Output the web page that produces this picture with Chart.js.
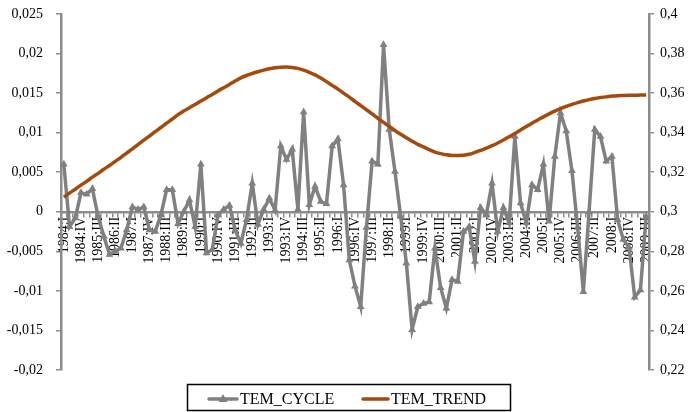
<!DOCTYPE html>
<html>
<head>
<meta charset="utf-8">
<script src="https://cdn.jsdelivr.net/npm/chart.js@4/dist/chart.umd.min.js"></script>
<style>
  html, body { margin: 0; padding: 0; background: #ffffff; }
  #wrap { position: relative; width: 688px; height: 412px; }
  canvas { display: block; }
</style>
</head>
<body>
<div id="wrap"><canvas id="c" width="688" height="412"></canvas></div>
<script>
// Quarterly categories 1984:I .. 2009:III
const firstYear = 1984;
const lastYear = 2009;
const lastQuarter = 3;
const quarterNames = ['I', 'II', 'III', 'IV'];
const categories = [];
for (let y = firstYear; y <= lastYear; y++) {
  for (let q = 0; q < 4; q++) {
    if (y === lastYear && q >= lastQuarter) break;
    categories.push(y + ':' + quarterNames[q]);
  }
}

// Cyclical component (left axis)
const temCycle = [
  0.0060, -0.0019, -0.0008, 0.0024, 0.0022, 0.0029, -0.0006, -0.0031, -0.0054, -0.0050,
  -0.0046, -0.0023, 0.0006, 0.0003, 0.0006, -0.0023, -0.0025, -0.0004, 0.0028, 0.0028,
  -0.0015, 0.0000, 0.0015, -0.0019, 0.0060, -0.0052, -0.0048, -0.0004, 0.0003, 0.0008,
  -0.0023, -0.0040, -0.0010, 0.0036, -0.0016, 0.0003, 0.0017, 0.0002, 0.0083, 0.0066,
  0.0079, 0.0003, 0.0126, 0.0009, 0.0032, 0.0013, 0.0010, 0.0083, 0.0092, 0.0034,
  -0.0061, -0.0094, -0.0120, -0.0020, 0.0064, 0.0060, 0.0211, 0.0104, 0.0051, -0.0006,
  -0.0065, -0.0149, -0.0120, -0.0116, -0.0114, -0.0046, -0.0096, -0.0122, -0.0086, -0.0088,
  -0.0025, -0.0019, -0.0063, 0.0005, -0.0004, 0.0036, -0.0025, 0.0005, -0.0014, 0.0095,
  0.0011, -0.0014, 0.0034, 0.0028, 0.0060, -0.0012, 0.0070, 0.0125, 0.0102, 0.0052,
  -0.0020, -0.0101, 0.0000, 0.0104, 0.0095, 0.0064, 0.0070, -0.0010, -0.0035, -0.0045,
  -0.0108, -0.0099, -0.0006
];

// Trend component (right axis)
const temTrend = [
  0.3074, 0.3095, 0.3114, 0.3135, 0.3154, 0.3175, 0.3194, 0.3215, 0.3234, 0.3255,
  0.3275, 0.3297, 0.3318, 0.3340, 0.3362, 0.3383, 0.3405, 0.3426, 0.3448, 0.3469,
  0.3491, 0.3509, 0.3526, 0.3543, 0.3560, 0.3577, 0.3593, 0.3611, 0.3627, 0.3644,
  0.3661, 0.3677, 0.3689, 0.3699, 0.3708, 0.3716, 0.3723, 0.3728, 0.3731, 0.3732,
  0.3730, 0.3725, 0.3716, 0.3705, 0.3692, 0.3676, 0.3658, 0.3639, 0.3620, 0.3600,
  0.3580, 0.3558, 0.3537, 0.3516, 0.3495, 0.3473, 0.3452, 0.3431, 0.3411, 0.3392,
  0.3374, 0.3357, 0.3341, 0.3328, 0.3314, 0.3302, 0.3294, 0.3288, 0.3285, 0.3285,
  0.3286, 0.3291, 0.3300, 0.3310, 0.3322, 0.3334, 0.3348, 0.3363, 0.3379, 0.3396,
  0.3413, 0.3431, 0.3448, 0.3464, 0.3480, 0.3495, 0.3509, 0.3522, 0.3533, 0.3543,
  0.3552, 0.3560, 0.3567, 0.3573, 0.3578, 0.3581, 0.3585, 0.3587, 0.3588, 0.3589,
  0.3589, 0.3590, 0.3590
];

// Axis ranges and tick steps
const leftAxis = { min: -0.02, max: 0.025, step: 0.005 };
const rightAxis = { min: 0.22, max: 0.4, step: 0.02 };
const labelEvery = 3;

const seriesNames = ['TEM_CYCLE', 'TEM_TREND'];
const GREY = '#808080';
const BROWN = '#a34a0c';
const AXIS = '#8c8c8c';
const FONT = '"Liberation Serif", "Times New Roman", serif';

function decimalComma(v) {
  return String(+v.toFixed(4)).replace('.', ',');
}

// Fixed axis width; keep only half a label of head/foot room
function fixedWidth(w) {
  return function (scale) {
    scale.width = w;
    scale.paddingTop = 7;
    scale.paddingBottom = 7;
  };
}

// Boxed legend under the plot
const boxedLegend = {
  id: 'boxedLegend',
  afterDraw(chart) {
    const ctx = chart.ctx;
    ctx.save();
    ctx.strokeStyle = '#000000';
    ctx.lineWidth = 1.5;
    ctx.strokeRect(187.5, 384.5, 323, 26);

    const cy = 399;
    // cycle sample with triangle marker
    ctx.strokeStyle = GREY;
    ctx.lineWidth = 3.5;
    ctx.lineCap = 'round';
    ctx.beginPath(); ctx.moveTo(209, cy); ctx.lineTo(237, cy); ctx.stroke();
    ctx.fillStyle = GREY;
    ctx.beginPath();
    ctx.moveTo(223, cy - 5); ctx.lineTo(227.5, cy + 3); ctx.lineTo(218.5, cy + 3);
    ctx.closePath(); ctx.fill();
    // trend sample
    ctx.strokeStyle = BROWN;
    ctx.beginPath(); ctx.moveTo(363, cy); ctx.lineTo(388, cy); ctx.stroke();

    ctx.fillStyle = '#000000';
    ctx.font = '16px ' + FONT;
    ctx.textBaseline = 'middle';
    ctx.textAlign = 'left';
    ctx.fillText(seriesNames[0], 240, cy + 1);
    ctx.fillText(seriesNames[1], 391, cy + 1);
    ctx.restore();
  }
};

new Chart(document.getElementById('c'), {
  type: 'line',
  data: {
    labels: categories,
    datasets: [
      {
        label: seriesNames[1],
        data: temTrend,
        yAxisID: 'yR',
        borderColor: BROWN,
        borderWidth: 3.5,
        pointRadius: 0,
        tension: 0.3,
        order: 0
      },
      {
        label: seriesNames[0],
        data: temCycle,
        yAxisID: 'y',
        borderColor: GREY,
        backgroundColor: GREY,
        borderWidth: 3.5,
        pointStyle: 'triangle',
        pointRadius: 4.5,
        pointBorderWidth: 0,
        pointBackgroundColor: GREY,
        tension: 0,
        order: 1
      }
    ]
  },
  options: {
    responsive: false,
    animation: false,
    devicePixelRatio: 1,
    layout: { padding: { top: 14, bottom: 42, left: 0, right: 0 } },
    plugins: {
      legend: { display: false },
      tooltip: { enabled: false }
    },
    scales: {
      x: {
        type: 'category',
        position: { y: 0 },
        offset: true,
        grid: {
          offset: true,
          drawOnChartArea: false,
          drawTicks: true,
          tickLength: 4,
          color: AXIS,
          lineWidth: 1.5
        },
        border: { display: true, color: AXIS, width: 2.5 },
        ticks: {
          autoSkip: false,
          minRotation: 90,
          maxRotation: 90,
          padding: 1,
          color: '#000000',
          font: { family: FONT, size: 14 },
          callback: function (value, index) {
            return index % labelEvery === 0 ? categories[index] : '';
          }
        }
      },
      y: {
        position: 'left',
        min: leftAxis.min,
        max: leftAxis.max,
        afterFit: fixedWidth(61),
        grid: {
          drawOnChartArea: false,
          drawTicks: true,
          tickLength: 5,
          color: AXIS,
          lineWidth: 1.5
        },
        border: { display: true, color: AXIS, width: 2.5 },
        ticks: {
          stepSize: leftAxis.step,
          padding: 13,
          color: '#000000',
          font: { family: FONT, size: 14 },
          callback: (v) => decimalComma(v)
        }
      },
      yR: {
        position: 'right',
        min: rightAxis.min,
        max: rightAxis.max,
        afterFit: fixedWidth(39),
        grid: {
          drawOnChartArea: false,
          drawTicks: true,
          tickLength: 5,
          color: AXIS,
          lineWidth: 1.5
        },
        border: { display: true, color: AXIS, width: 2.5 },
        ticks: {
          stepSize: rightAxis.step,
          padding: 6,
          color: '#000000',
          font: { family: FONT, size: 14 },
          callback: (v) => decimalComma(v)
        }
      }
    }
  },
  plugins: [boxedLegend]
});
</script>
</body>
</html>
